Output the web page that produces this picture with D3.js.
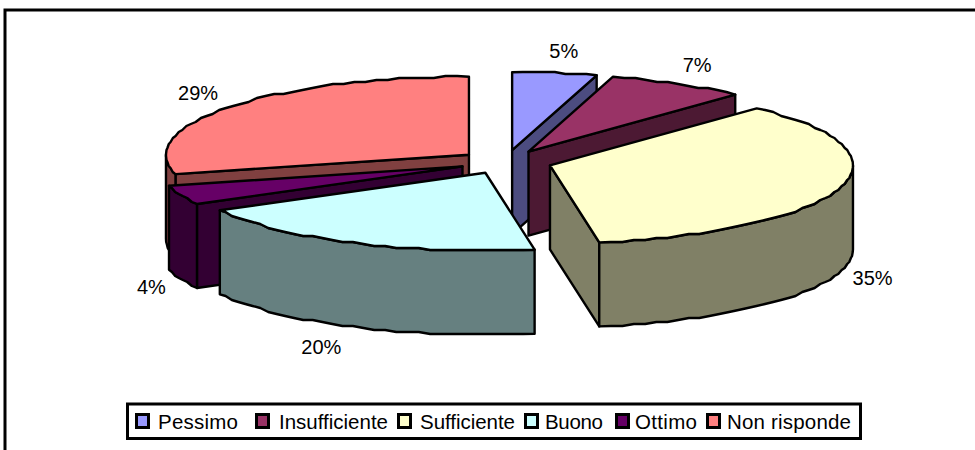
<!DOCTYPE html>
<html>
<head>
<meta charset="utf-8">
<script src="https://cdn.jsdelivr.net/npm/d3@7/dist/d3.min.js"></script>
<style>
html,body{margin:0;padding:0;background:#fff;overflow:hidden}
svg{display:block}
text{font-family:"Liberation Sans",Arial,sans-serif;fill:#000}
</style>
</head>
<body>
<svg id="chart" width="975" height="450"></svg>
<script>
const categories = ["Pessimo","Insufficiente","Sufficiente","Buono","Ottimo","Non risponde"];
const seriesValues = [4.5,7.45,35.45,19.6,4.0,29.0];
const percentLabels = ["5%","7%","35%","20%","4%","29%"];
const topColors = ["#9999ff","#993366","#ffffcc","#ccffff","#660066","#ff8080"];
const wallColors = ["#4c4c80","#4c1933","#808066","#668080","#330033","#804040"];

const svg = d3.select("#chart");
const cx = 505.6, cy = 162, rx = 303, ry = 78, depth = 84, explode = 0.153;
const x = d3.scaleLinear().domain([-1,1]).range([cx-rx,cx+rx]);
const y = d3.scaleLinear().domain([-1,1]).range([cy-ry,cy+ry]);
const pie = d3.pie().sort(null);
const arcs = pie(seriesValues);
const line = d3.line();
const TAU = 2*Math.PI, RIGHT = Math.PI/2, PI = Math.PI;

// outer frame (its right and bottom sides fall outside the picture)
svg.append("rect").attr("x",5).attr("y",10).attr("width",990).attr("height",470)
  .attr("fill","#fff").attr("stroke","#000").attr("stroke-width",3);

function pt(d,a,r,down){
  const m=(d.startAngle+d.endAngle)/2;
  const u=explode*Math.sin(m)+r*Math.sin(a);
  const v=-explode*Math.cos(m)-r*Math.cos(a);
  return [x(u),y(v)+(down?depth:0)];
}
// slightly stepped rim, like the low resolution raster of the original
function rim(d,a0,a1,down){
  const n=Math.max(2,Math.ceil((a1-a0)/(TAU/160)));
  return d3.range(n+1).map(i=>{
    const a=a0+(a1-a0)*i/n, p=pt(d,a,1,down);
    return (i===0||i===n)?p:[p[0],Math.round(p[1]/2)*2];
  });
}
const order=[5,0,1,4,2,3];
const g=svg.append("g").attr("stroke","#000").attr("stroke-width",2.4).attr("stroke-linejoin","round");
function poly(pts,fill){ g.append("path").attr("d",line(pts)+"Z").attr("fill",fill); }

order.forEach(i=>{
  const d=arcs[i], a0=d.startAngle, a1=d.endAngle, ap=pt(d,0,0,false), apb=pt(d,0,0,true);
  if(a1<PI){ poly([ap,pt(d,a1,1,false),pt(d,a1,1,true),apb],wallColors[i]); }
  if(a0>PI){ poly([ap,pt(d,a0,1,false),pt(d,a0,1,true),apb],wallColors[i]); }
  const b0=Math.max(a0,RIGHT), b1=Math.min(a1,3*RIGHT);
  if(b1>b0){ poly(rim(d,b0,b1,false).concat(rim(d,b0,b1,true).reverse()),wallColors[i]); }
  poly([ap].concat(rim(d,a0,a1,false)),topColors[i]);
});

// data labels
const labelNudge=[[3,0],[-2,0],[-8,0],[-13,0],[10,0],[2,0]];
svg.append("g").selectAll("text").data(arcs).join("text")
  .attr("font-size",20).attr("text-anchor","middle")
  .attr("x",(d,i)=>{const m=(d.startAngle+d.endAngle)/2;return x(explode*Math.sin(m)+1.14*Math.sin(m))+labelNudge[i][0];})
  .attr("y",(d,i)=>{const m=(d.startAngle+d.endAngle)/2;
    return y(-explode*Math.cos(m)-1.28*Math.cos(m))+(Math.cos(m)<0?depth:0)+7+labelNudge[i][1];})
  .text((d,i)=>percentLabels[i]);

// legend
const lg=svg.append("g");
lg.append("rect").attr("x",127.5).attr("y",404).attr("width",733).attr("height",34.5)
  .attr("fill","#fff").attr("stroke","#000").attr("stroke-width",3);
const swatchX=[136.5,256.5,398.5,525.5,616.5,707.5];
const textX=[158,279,420,545,635,727];
const textW=[80,109,95,58,62,124];
const entry=lg.selectAll("g.e").data(categories).join("g").attr("class","e");
entry.append("rect").attr("x",(d,i)=>swatchX[i]).attr("y",414.5).attr("width",12).attr("height",13)
  .attr("fill",(d,i)=>topColors[i]).attr("stroke","#000").attr("stroke-width",3);
entry.append("text").attr("x",(d,i)=>textX[i]).attr("y",429).attr("font-size",20.5)
  .attr("textLength",(d,i)=>textW[i]).attr("lengthAdjust","spacing").text(d=>d);
</script>
</body>
</html>
